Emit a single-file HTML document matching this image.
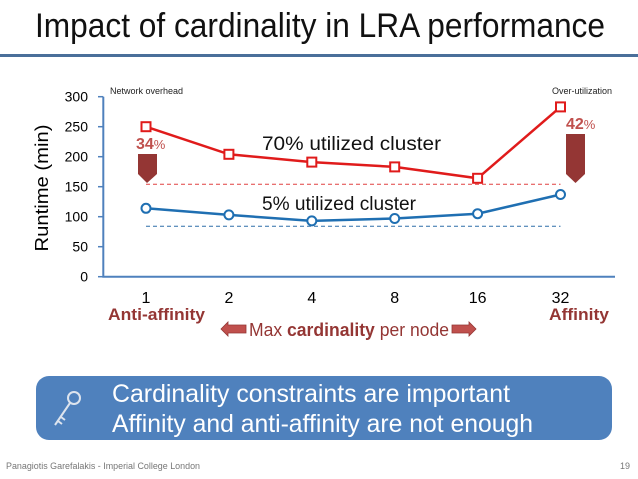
<!DOCTYPE html>
<html><head><meta charset="utf-8"><style>
body{margin:0;background:#fff;}
svg{display:block;font-family:"Liberation Sans",sans-serif;}
</style></head><body>
<svg id="c" width="638" height="479" viewBox="0 0 638 479">
<text x="35" y="37" font-size="34" textLength="570" lengthAdjust="spacingAndGlyphs" fill="#111">Impact of cardinality in LRA performance</text>
<rect x="0" y="54" width="638" height="3" fill="#4a6f9a"/>
<g id="chart"></g>
<text x="48" y="188" font-size="18" text-anchor="middle" textLength="127" lengthAdjust="spacingAndGlyphs" transform="rotate(-90 48 188)" fill="#000">Runtime (min)</text>
<text x="110" y="94" font-size="9" fill="#222">Network overhead</text>
<text x="612" y="94" font-size="9" fill="#222" text-anchor="end">Over-utilization</text>
<text x="262" y="150" font-size="19" textLength="179" lengthAdjust="spacingAndGlyphs" fill="#111">70% utilized cluster</text>
<text x="262" y="210" font-size="19" textLength="154" lengthAdjust="spacingAndGlyphs" fill="#111">5% utilized cluster</text>
<text x="136" y="149" font-size="16" font-weight="bold" fill="#c0504d">34<tspan font-size="13" font-weight="normal">%</tspan></text>
<text x="566" y="129" font-size="16" font-weight="bold" fill="#c0504d">42<tspan font-size="13" font-weight="normal">%</tspan></text>
<path d="M138,154 H157 V174 L147,183 L138,174 Z" fill="#943634"/>
<path d="M566,134 H585 V174 L575.5,183 L566,174 Z" fill="#943634"/>
<text x="108" y="320" font-size="17" font-weight="bold" textLength="97" lengthAdjust="spacingAndGlyphs" fill="#943634">Anti-affinity</text>
<text x="549" y="320" font-size="17" font-weight="bold" textLength="60" lengthAdjust="spacingAndGlyphs" fill="#943634">Affinity</text>
<path d="M221,329 L228,322 V325 H246 V333 H228 V336 Z" fill="#c0504d" stroke="#943634" stroke-width="0.8"/>
<text x="249" y="336" font-size="18" textLength="200" lengthAdjust="spacingAndGlyphs" fill="#943634">Max <tspan font-weight="bold">cardinality</tspan> per node</text>
<path d="M452,325 H469 V322 L476,329 L469,336 V333 H452 Z" fill="#c0504d" stroke="#943634" stroke-width="0.8"/>
<rect x="36" y="376" width="576" height="64" rx="13" fill="#4f81bd"/>
<g stroke="#dde4ee" stroke-width="2" fill="none"><circle cx="74" cy="398" r="6"/><path d="M70,403 L55,425 M58,421 L62,424 M61,417 L65,420"/></g>
<text x="112" y="402" font-size="25" textLength="398" lengthAdjust="spacingAndGlyphs" fill="#fff">Cardinality constraints are important</text>
<text x="112" y="432" font-size="25" textLength="421" lengthAdjust="spacingAndGlyphs" fill="#fff">Affinity and anti-affinity are not enough</text>
<text x="6" y="469" font-size="9" textLength="194" lengthAdjust="spacingAndGlyphs" fill="#777">Panagiotis Garefalakis - Imperial College London</text>
<text x="630" y="469" font-size="9" fill="#777" text-anchor="end">19</text>
</svg>
<script>
const categories=["1","2","4","8","16","32"];
const seriesHigh=[250,204,191,183,164,283];
const seriesLow=[114,103,93,97,105,137];
const refHigh=154;
const refLow=84;
const yTicks=[0,50,100,150,200,250,300];
const NS="http://www.w3.org/2000/svg";
const g=document.getElementById("chart");
const y=v=>276.7-v*0.6;
const x=i=>146+i*82.9;
function mk(t,a){const e=document.createElementNS(NS,t);for(const k in a)e.setAttribute(k,a[k]);g.appendChild(e);return e;}
let e=mk("path",{d:`M103.3,${y(300)} V${y(0)} H615`,stroke:"#4f81bd","stroke-width":2,fill:"none"});


yTicks.forEach(t=>{
  let l=mk("line",{x1:98,x2:103.3,y1:y(t),y2:y(t),stroke:"#4f81bd","stroke-width":1.5});
  
  
  let tx=mk("text",{x:88,y:y(t)+5,"font-size":14,"text-anchor":"end",fill:"#000"});tx.textContent=t;
  
  
});
categories.forEach((c,i)=>{
  let tx=mk("text",{x:x(i),y:303,"font-size":16,"text-anchor":"middle",fill:"#000"});tx.textContent=c;
  
  
});
let d1=mk("line",{x1:x(0),x2:x(5),y1:y(refHigh),y2:y(refHigh),stroke:"#e04040","stroke-dasharray":"4,3","stroke-width":1});


let d2=mk("line",{x1:x(0),x2:x(5),y1:y(refLow),y2:y(refLow),stroke:"#2e6fa8","stroke-dasharray":"4,3","stroke-width":1});


let p1=mk("polyline",{points:seriesHigh.map((v,i)=>x(i)+","+y(v)).join(" "),stroke:"#e01b1b","stroke-width":2.5,fill:"none"});


let p2=mk("polyline",{points:seriesLow.map((v,i)=>x(i)+","+y(v)).join(" "),stroke:"#1f6fb2","stroke-width":2.5,fill:"none"});


seriesHigh.forEach((v,i)=>{
  let r=mk("rect",{x:x(i)-4.5,y:y(v)-4.5,width:9,height:9,fill:"#fff",stroke:"#e01b1b","stroke-width":2});
  
  
});
seriesLow.forEach((v,i)=>{
  let r=mk("circle",{cx:x(i),cy:y(v),r:4.5,fill:"#fff",stroke:"#1f6fb2","stroke-width":2});
  
  
});
</script>
</body></html>
